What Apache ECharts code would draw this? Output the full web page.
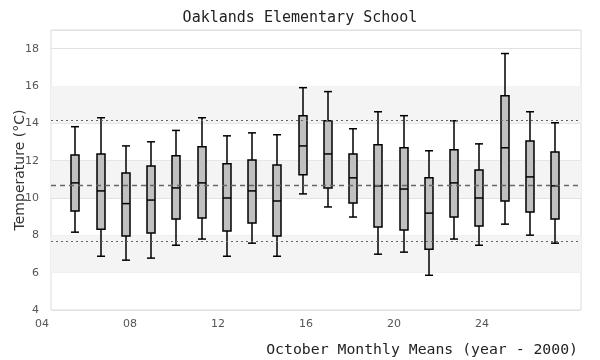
<!DOCTYPE html>
<html>
<head>
<meta charset="utf-8">
<script src="https://cdn.jsdelivr.net/npm/echarts@6/dist/echarts.min.js"></script>
<style>html,body{margin:0;padding:0;background:#fff;}#c{width:600px;height:360px;}</style>
</head>
<body>
<div id="c"></div>
<script>
// Years (minus 2000) for each box
const years = [5,6,7,8,9,10,11,12,13,14,15,16,17,18,19,20,21,22,23,24];
const mins    = [8.17,6.88,6.67,6.78,7.47,7.80,6.88,7.58,6.88,10.22,9.52,8.98,6.99,7.10,5.86,7.80,7.47,8.60,8.01,7.58];
const q1s     = [9.30,8.33,7.96,8.12,8.87,8.93,8.23,8.66,7.96,11.24,10.54,9.73,8.44,8.28,7.26,8.98,8.50,9.84,9.25,8.87];
const medians = [10.81,10.38,9.70,9.89,10.54,10.81,10.00,10.38,9.84,12.79,12.36,11.08,10.65,10.48,9.19,10.81,10.00,12.69,11.13,10.65];
const q3s     = [12.31,12.36,11.34,11.72,12.26,12.74,11.83,12.04,11.77,14.41,14.14,12.36,12.85,12.69,11.08,12.58,11.50,15.48,13.06,12.47];
const maxs    = [13.82,14.30,12.79,13.01,13.62,14.30,13.33,13.49,13.39,15.91,15.70,13.71,14.62,14.41,12.53,14.14,12.90,17.74,14.62,14.03];
// Reference lines: mean and upper/lower bounds
const meanLine = [10.70];
const boundLines = [14.14, 7.69];
// Shaded bands on the y axis
const bands = [[6,8],[10,12],[14,16]];
// X tick labels
const xTicks = [4,8,12,16,20,24];

const boxData = years.map((y,i)=>[i+1, mins[i], q1s[i], medians[i], q3s[i], maxs[i]]);

const chart = echarts.init(document.getElementById('c'), null, {renderer:'canvas'});
const mono = 'DejaVu Sans Mono';
const sans = 'DejaVu Sans';

chart.setOption({
  animation:false,
  backgroundColor:'#fff',
  title:[
    {text:'Oaklands Elementary School', left:'center', top:6,
     textStyle:{fontFamily:mono, fontSize:15, fontWeight:'normal', color:'#222'}},
    {text:'October Monthly Means (year - 2000)', right:17, top:338,
     textStyle:{fontFamily:mono, fontSize:14.8, fontWeight:'normal', color:'#222'}}
  ],
  grid:[
    {left:51, right:19, top:30, bottom:50, show:true, borderColor:'#dcdcdc', borderWidth:1,
     containLabel:false, outerBoundsMode:'none'},
    {left:42, width:440, top:30, bottom:50, show:false, containLabel:false, outerBoundsMode:'none'}
  ],
  xAxis:[
    {type:'value', gridIndex:0, min:0.04, max:21.02, show:true,
     axisLine:{show:false}, axisTick:{show:false}, axisLabel:{show:false}, splitLine:{show:false}},
    {type:'value', gridIndex:1, min:4, max:24, interval:4,
     axisLine:{show:false}, axisTick:{show:false}, splitLine:{show:false},
     axisLabel:{show:true, margin:9, color:'#555', fontFamily:sans, fontSize:11,
       formatter:v=> xTicks.includes(v) ? String(v).padStart(2,'0') : ''}}
  ],
  yAxis:[
    {type:'value', gridIndex:0, min:4, max:19, interval:2,
     name:'Temperature (°C)', nameLocation:'middle', nameGap:24, nameRotate:90,
     nameMoveOverlap:false,
     nameTextStyle:{fontFamily:sans, fontSize:14, color:'#333'},
     axisLine:{show:false}, axisTick:{show:false},
     axisLabel:{margin:12, color:'#555', fontFamily:sans, fontSize:11,
       formatter:v=> (v>=4 && v<=18) ? String(v) : ''},
     splitLine:{show:true, lineStyle:{color:'#e2e2e2', width:1}}},
    {type:'value', gridIndex:1, min:4, max:19, show:false}
  ],
  series:[
    {type:'line', xAxisIndex:0, yAxisIndex:0, z:-1, data:[], silent:true,
     markArea:{silent:true, itemStyle:{color:'#f4f4f4'},
       data: bands.map(b=>[{yAxis:b[0]},{yAxis:b[1]}])}},
    {type:'line', xAxisIndex:0, yAxisIndex:0, z:1, data:[], silent:true,
     markLine:{silent:true, symbol:'none', label:{show:false},
       data:[
         ...meanLine.map(v=>({yAxis:v, lineStyle:{type:[5,4], color:'#666', width:1.3}})),
         ...boundLines.map(v=>({yAxis:v, lineStyle:{type:[2,3], color:'#666', width:1}}))
       ]}},
    {type:'custom', xAxisIndex:0, yAxisIndex:0, z:3,
     encode:{x:0, y:[1,2,3,4,5]},
     data: boxData,
     renderItem(params, api){
       const x = api.value(0);
       const lo = api.coord([x, api.value(1)]);
       const q1 = api.coord([x, api.value(2)]);
       const md = api.coord([x, api.value(3)]);
       const q3 = api.coord([x, api.value(4)]);
       const hi = api.coord([x, api.value(5)]);
       const cx = Math.round(lo[0]);
       const hw = 4;
       const ls = {stroke:'#000', lineWidth:1.5, fill:null};
       return {type:'group', children:[
         {type:'line', shape:{x1:cx, y1:hi[1], x2:cx, y2:q3[1]}, style:ls},
         {type:'line', shape:{x1:cx, y1:q1[1], x2:cx, y2:lo[1]}, style:ls},
         {type:'line', shape:{x1:cx-hw, y1:hi[1], x2:cx+hw, y2:hi[1]}, style:ls},
         {type:'line', shape:{x1:cx-hw, y1:lo[1], x2:cx+hw, y2:lo[1]}, style:ls},
         {type:'rect', shape:{x:cx-hw, y:q3[1], width:2*hw, height:q1[1]-q3[1]},
          style:{fill:'#c0c0c0', stroke:'#000', lineWidth:1.5}},
         {type:'line', shape:{x1:cx-hw, y1:md[1], x2:cx+hw, y2:md[1]}, style:ls}
       ]};
     }}
  ]
});
</script>
</body>
</html>
